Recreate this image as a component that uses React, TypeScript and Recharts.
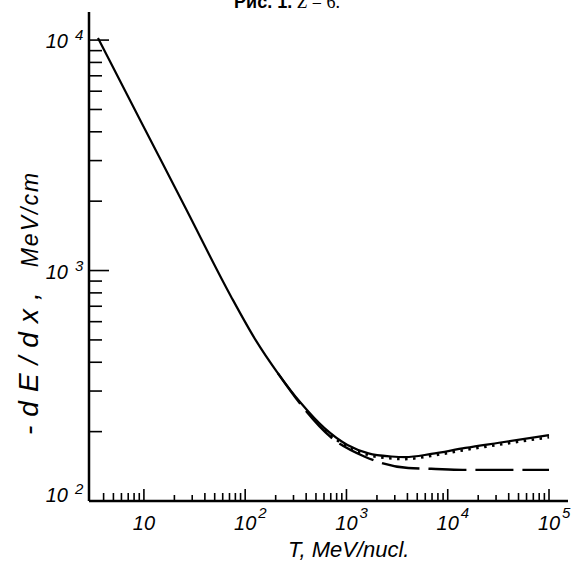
import { LineChart, Line, XAxis, YAxis } from 'recharts';

// T in MeV/nucl., -dE/dx in MeV/cm (Z = 6)
const solidT = [3.52, 9.34, 26, 72.2, 127, 210, 355, 607, 1023, 1650, 2780, 3810, 6870, 14900, 32100, 100000];
const solidE = [10200, 4434, 1853, 774, 499, 359, 266, 207, 175, 161, 156, 155, 160, 170, 179, 193];

const dashT = [210, 355, 695, 1500, 4080, 6870, 14000, 33000, 100000];
const dashE = [359, 262, 190, 156, 139, 138, 136.5, 136.5, 136.5];

const dotT = [607, 1023, 1650, 2780, 3810, 6870, 14900, 32100, 100000];
const dotE = [203, 171.5, 158, 153, 152, 157, 166.5, 175.5, 189];

const mantissas = [1, 2, 3, 4, 5, 6, 7, 8, 9];
const xDecades = [1, 10, 100, 1000, 10000, 100000];
const yDecades = [100, 1000, 10000];

const xDomain = [2.87, 154000];
const yDomain = [100, 13240];

const W = 575;
const H = 565;
const FONT = '"Liberation Sans", Arial, sans-serif';

const toPoints = (t: number[], e: number[]) => t.map((v, i) => ({ t: v, e: e[i] }));
const solid = toPoints(solidT, solidE);
const dashed = toPoints(dashT, dashE);
const dotted = toPoints(dotT, dotE);

const xTicks = xDecades
  .flatMap((d) => mantissas.map((m) => m * d))
  .filter((v) => v > xDomain[0] * 1.2 && v <= xDomain[1]);
const yTicks = yDecades
  .flatMap((d) => mantissas.map((m) => m * d))
  .filter((v) => v >= yDomain[0] && v <= yDomain[1]);

const isMajor = (v: number) => Math.abs(Math.log10(v) - Math.round(Math.log10(v))) < 1e-9;
const mant = (v: number) => Math.round(v / 10 ** Math.floor(Math.log10(v) + 1e-9));

function XTick(props: any) {
  const { x, y, payload } = props;
  const v = payload.value;
  const major = isMajor(v);
  const p = Math.round(Math.log10(v));
  const len = major ? 12 : mant(v) <= 3 ? 6 : 8;
  return (
    <g>
      <line x1={x} y1={y} x2={x} y2={y - len} stroke="#000" strokeWidth={1.6} />
      {major && (
        <text x={x} y={y + 29} textAnchor="middle" fontFamily={FONT} fontStyle="italic" fontSize={20} fill="#000">
          10
        </text>
      )}
      {major && p > 1 && (
        <text x={x + 13} y={y + 17} fontFamily={FONT} fontStyle="italic" fontSize={15} fill="#000">
          {p}
        </text>
      )}
    </g>
  );
}

function YTick(props: any) {
  const { x, y, payload } = props;
  const v = payload.value;
  const major = isMajor(v);
  const p = Math.round(Math.log10(v));
  const base = v === yDomain[0] ? y + 1 : y + 8;
  return (
    <g>
      {v !== yDomain[0] && (
        <line x1={x} y1={y} x2={x + (major ? 20 : 13)} y2={y} stroke="#000" strokeWidth={1.6} />
      )}
      {major && (
        <>
          <text x={x - 21} y={base} textAnchor="end" fontFamily={FONT} fontStyle="italic" fontSize={20} fill="#000">
            10
          </text>
          <text x={x - 14} y={base - 8} fontFamily={FONT} fontStyle="italic" fontSize={15} fill="#000">
            {p}
          </text>
        </>
      )}
    </g>
  );
}

export default function App() {
  return (
    <div style={{ position: 'absolute', left: 0, top: 0, width: W, height: H, background: '#fff' }}>
      <LineChart width={W} height={H} margin={{ top: 12, right: 7, bottom: 24, left: 29 }}>
        <XAxis
          dataKey="t"
          type="number"
          scale="log"
          domain={xDomain}
          allowDataOverflow
          ticks={xTicks}
          interval={0}
          tick={<XTick />}
          tickLine={false}
          tickSize={0}
          tickMargin={0}
          height={40}
          axisLine={{ stroke: '#000', strokeWidth: 2.5 }}
        />
        <YAxis
          dataKey="e"
          type="number"
          scale="log"
          domain={yDomain}
          allowDataOverflow
          ticks={yTicks}
          interval={0}
          tick={<YTick />}
          tickLine={false}
          tickSize={0}
          tickMargin={0}
          width={60}
          axisLine={{ stroke: '#000', strokeWidth: 2.5 }}
        />
        <Line data={solid} dataKey="e" type="monotone" stroke="#000" strokeWidth={2.2} dot={false} isAnimationActive={false} />
        <Line
          data={dashed}
          dataKey="e"
          type="monotone"
          stroke="#000"
          strokeWidth={2.4}
          strokeDasharray="38 9"
          dot={false}
          isAnimationActive={false}
        />
        <Line
          data={dotted}
          dataKey="e"
          type="monotone"
          stroke="#000"
          strokeWidth={2.6}
          strokeDasharray="2.5 5.5"
          dot={false}
          isAnimationActive={false}
        />
      </LineChart>
      <svg width={W} height={H} style={{ position: 'absolute', left: 0, top: 0, pointerEvents: 'none' }}>
        <text x={287} y={8} textAnchor="middle" fontSize={18} fill="#000">
          <tspan fontFamily={FONT} fontWeight="bold">Рис. 1. </tspan>
          <tspan fontFamily='"Liberation Serif", serif' fontStyle="italic">Z</tspan>
          <tspan fontFamily='"Liberation Serif", serif'> = 6.</tspan>
        </text>
        <text x={288} y={557} fontFamily={FONT} fontStyle="italic" fontSize={22} fill="#000">
          T, MeV/nucl.
        </text>
        <text transform="rotate(-90)" x={-435} y={38} fontFamily={FONT} fontStyle="italic" fill="#000">
          <tspan fontSize={28} letterSpacing={9}>-dE/dx,</tspan>
          <tspan fontSize={23} letterSpacing={2} dx={16}>MeV/cm</tspan>
        </text>
      </svg>
    </div>
  );
}
